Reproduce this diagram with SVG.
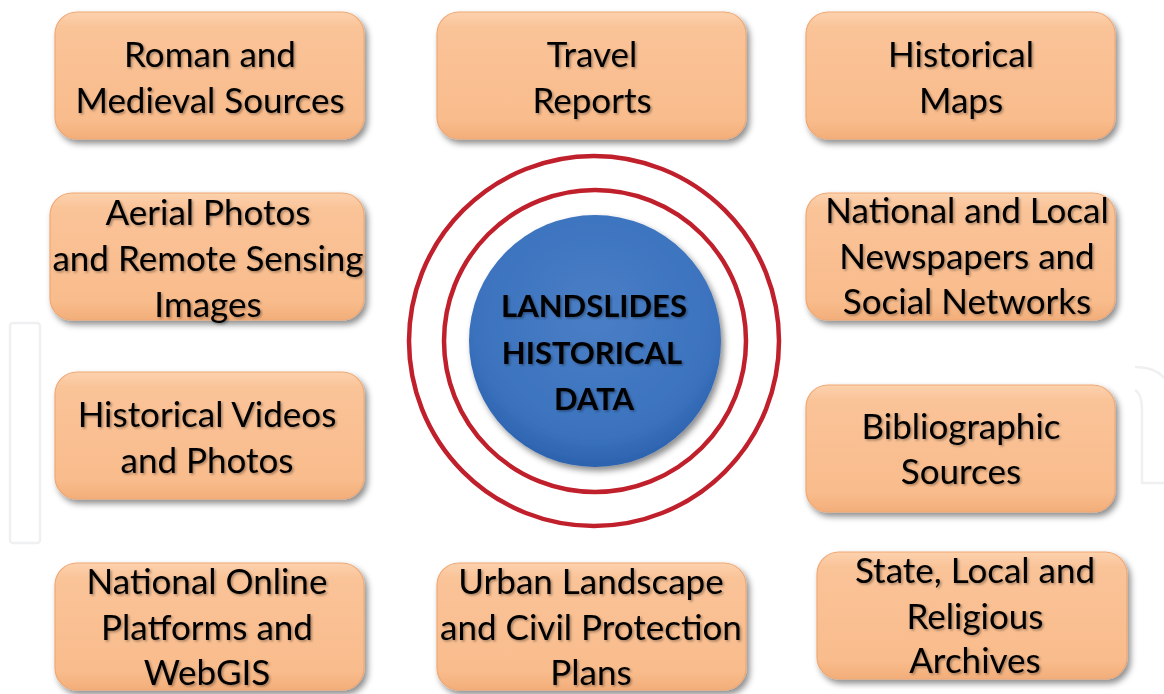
<svg xmlns="http://www.w3.org/2000/svg" width="1164" height="694" viewBox="0 0 1164 694">
<defs>
<linearGradient id="peach" x1="0" y1="0" x2="0" y2="1">
<stop offset="0" stop-color="#FCD2AE"/>
<stop offset="0.12" stop-color="#FAC398"/>
<stop offset="0.85" stop-color="#F9BC8C"/>
<stop offset="1" stop-color="#F2AE7A"/>
</linearGradient>
<radialGradient id="blue" cx="0.5" cy="0.4" r="0.6">
<stop offset="0" stop-color="#4A7FC6"/>
<stop offset="0.8" stop-color="#3B72BE"/>
<stop offset="1" stop-color="#2C62AE"/>
</radialGradient>
<filter id="boxShadow" x="-10%" y="-10%" width="125%" height="130%">
<feDropShadow dx="3" dy="4" stdDeviation="3" flood-color="#000" flood-opacity="0.45"/>
</filter>
<filter id="txtShadow" x="-5%" y="-20%" width="115%" height="150%">
<feDropShadow dx="1.5" dy="1.5" stdDeviation="1" flood-color="#000" flood-opacity="0.35"/>
</filter>
</defs>
<style>
.box{fill:url(#peach);stroke:#EFA874;stroke-width:1.2;filter:url(#boxShadow)}
.lbl{font-family:Lato,"Liberation Sans",sans-serif;font-size:35px;fill:#000;text-anchor:middle;filter:url(#txtShadow)}
.ctr{font-family:Lato,"Liberation Sans",sans-serif;font-size:31px;font-weight:bold;fill:#000;text-anchor:middle;filter:url(#txtShadow)}
.ring{fill:none;stroke:#C0202B;stroke-width:4.5}
.wm{fill:none;stroke:#EEF0F1;stroke-width:2.5}
</style>
<rect width="1164" height="694" fill="#FFFFFF"/>
<g id="watermark">
<rect class="wm" x="10" y="323" width="30" height="220" rx="3"/>
<path class="wm" d="M1135 367 Q1155 367 1164 378"/>
<path class="wm" d="M1135 390 Q1142 394 1142 410 V483 H1164"/>
</g>
<g id="connectors"></g>
<g id="center">
<circle class="ring" cx="594" cy="341" r="185"/>
<circle class="ring" cx="595" cy="341" r="151"/>
<circle cx="595" cy="341" r="126" fill="url(#blue)" filter="url(#boxShadow)"/>
<text class="ctr" x="594" y="317">LANDSLIDES</text>
<text class="ctr" x="592" y="364">HISTORICAL</text>
<text class="ctr" x="594" y="410">DATA</text>
</g>
<g id="n1"><rect class="box" x="55" y="12" width="309" height="127" rx="22"/>
<text class="lbl" x="210" y="67">Roman and</text><text class="lbl" x="210" y="113">Medieval Sources</text></g>
<g id="n2"><rect class="box" x="437" y="12" width="309" height="127" rx="22"/>
<text class="lbl" x="592" y="67">Travel</text><text class="lbl" x="592" y="113">Reports</text></g>
<g id="n3"><rect class="box" x="806" y="12" width="309" height="127" rx="22"/>
<text class="lbl" x="961" y="67">Historical</text><text class="lbl" x="961" y="113">Maps</text></g>
<g id="n4"><rect class="box" x="50" y="193" width="314" height="127" rx="22"/>
<text class="lbl" x="208" y="225">Aerial Photos</text><text class="lbl" x="208" y="271">and Remote Sensing</text><text class="lbl" x="208" y="317">Images</text></g>
<g id="n5"><rect class="box" x="806" y="193" width="309" height="127" rx="22"/>
<text class="lbl" x="967" y="223">National and Local</text><text class="lbl" x="967" y="269">Newspapers and</text><text class="lbl" x="967" y="314">Social Networks</text></g>
<g id="n6"><rect class="box" x="55" y="372" width="309" height="127" rx="22"/>
<text class="lbl" x="207" y="427">Historical Videos</text><text class="lbl" x="207" y="473">and Photos</text></g>
<g id="n7"><rect class="box" x="806" y="385" width="309" height="127" rx="22"/>
<text class="lbl" x="961" y="439">Bibliographic</text><text class="lbl" x="961" y="484">Sources</text></g>
<g id="n8"><rect class="box" x="55" y="563" width="309" height="127" rx="22"/>
<text class="lbl" x="207" y="594">National Online</text><text class="lbl" x="207" y="640">Platforms and</text><text class="lbl" x="207" y="685">WebGIS</text></g>
<g id="n9"><rect class="box" x="437" y="563" width="309" height="127" rx="22"/>
<text class="lbl" x="591" y="594">Urban Landscape</text><text class="lbl" x="591" y="640">and Civil Protection</text><text class="lbl" x="591" y="685">Plans</text></g>
<g id="n10"><rect class="box" x="817" y="552" width="310" height="127" rx="22"/>
<text class="lbl" x="975" y="583">State, Local and</text><text class="lbl" x="975" y="629">Religious</text><text class="lbl" x="975" y="673">Archives</text></g>
</svg>
